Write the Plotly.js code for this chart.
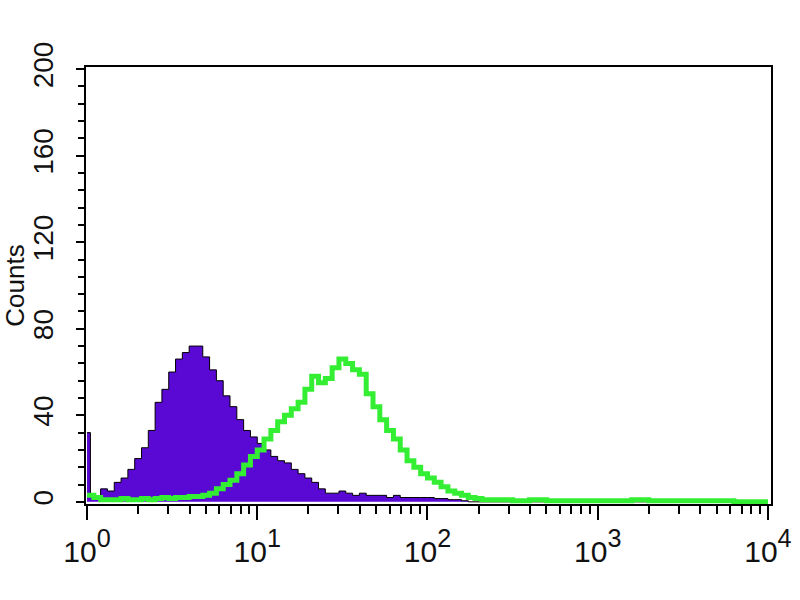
<!DOCTYPE html>
<html>
<head>
<meta charset="utf-8">
<script src="https://cdn.plot.ly/plotly-3.0.1.min.js"></script>
<style>html,body{margin:0;padding:0;background:#fff}#chart{width:800px;height:600px}</style>
</head>
<body>
<div id="chart"></div>
<script>
// Bin positions as log10 exponents
const purpleExp = [0.00,0.02,0.04,0.08,0.12,0.16,0.20,0.24,0.28,0.32,0.36,0.40,0.44,0.48,0.52,0.56,0.60,0.64,0.68,0.72,0.76,0.80,0.84,0.88,0.92,0.96,1.00,1.04,1.08,1.12,1.16,1.20,1.24,1.28,1.32,1.36,1.40,1.44,1.48,1.52,1.56,1.60,1.64,1.68,1.72,1.76,1.80,1.84,1.88,1.92,1.96,2.00,2.04,2.08,2.12,2.16,2.20,2.24,4.00];
const purpleCounts = [32,3,2,6,5,9,11,15,20,25,33,46,52,60,66,69,72,72,67,61,56,49,44,38,33,30,27,24,21,19,18,15,13,11,9,6,4,4,5,4,3,4,3,3,3,2,3,2,2,2,2,2,1.5,1.5,1,1,0.5,0,0];

const greenExp = [0.00,0.04,0.08,0.12,0.16,0.20,0.24,0.28,0.32,0.36,0.40,0.44,0.48,0.52,0.56,0.60,0.64,0.68,0.72,0.76,0.80,0.84,0.88,0.92,0.96,1.00,1.04,1.08,1.12,1.16,1.20,1.24,1.28,1.32,1.36,1.40,1.44,1.48,1.52,1.56,1.60,1.64,1.68,1.72,1.76,1.80,1.84,1.88,1.92,1.96,2.00,2.04,2.08,2.12,2.16,2.20,2.24,2.28,2.32,2.40,2.50,2.60,2.70,2.80,2.90,3.00,3.10,3.20,3.30,3.40,3.50,3.60,3.70,3.80,3.90,4.00];
const greenCounts = [3,2,1,1,1,1.5,1,1,1.5,1,1.5,2,1.5,2,2,2.5,2.5,3,4,6,8,10,13,17,21,24,29,33,37,40,43,46,52,58,55,57,62,66,64,61,59,50,44,38,33,29,24,19,16,13,11,9,7,5,4,3,2,1.5,1,1,0.5,1,0.5,0.5,0.5,0.5,0.5,1,0.5,0.5,0.5,0.5,0.5,0,0,0];

const xTickVals = [1,10,100,1000,10000];
const xTickExp = ['0','1','2','3','4'];
const yTickVals = [0,40,80,120,160,200];
const yTitle = 'Counts';

const toLin = a => a.map(e => Math.pow(10, e));
const xTickText = xTickExp.map(s => '10<span style="font-size:36px"><sup>' + s + '</sup></span>');

const traces = [
  {x: toLin(purpleExp), y: purpleCounts, type: 'scatter', mode: 'lines',
   line: {shape: 'hv', color: '#000000', width: 1}, fill: 'tozeroy', fillcolor: '#5a08d4',
   hoverinfo: 'skip'},
  {x: toLin(greenExp), y: greenCounts, type: 'scatter', mode: 'lines',
   line: {shape: 'hv', color: '#33ee33', width: 5}, hoverinfo: 'skip'}
];

const tickFont = {family: 'Liberation Sans Narrow, Arial Narrow, Liberation Sans, Arial, sans-serif', size: 30, color: '#111'};

const layout = {
  width: 800, height: 600,
  margin: {l: 86, r: 29, t: 67, b: 96},
  paper_bgcolor: '#fff', plot_bgcolor: '#fff',
  showlegend: false,
  xaxis: {
    type: 'log', range: [-0.006, 4.018], autorange: false,
    tickmode: 'array', tickvals: xTickVals, ticktext: xTickText,
    ticks: 'outside', ticklen: 14, tickwidth: 2, tickcolor: '#000',
    minor: {dtick: 'D1', ticks: 'outside', ticklen: 8, tickwidth: 2, tickcolor: '#000', showgrid: false},
    showline: true, linecolor: '#000', linewidth: 2, mirror: true,
    showgrid: false, zeroline: false,
    tickfont: tickFont, ticklabelstandoff: 6
  },
  yaxis: {
    range: [-1, 201], autorange: false,
    tickmode: 'array', tickvals: yTickVals,
    ticks: 'outside', ticklen: 8, tickwidth: 2, tickcolor: '#000',
    minor: {dtick: 8, tick0: 0, ticks: 'outside', ticklen: 6, tickwidth: 2, tickcolor: '#000', showgrid: false},
    showline: true, linecolor: '#000', linewidth: 2, mirror: true,
    showgrid: false, zeroline: false,
    tickangle: -90,
    tickfont: {family: 'Liberation Sans, Arial, sans-serif', size: 28, color: '#111'},
    ticklabelstandoff: 12,
    title: {text: yTitle, font: {family: 'Liberation Sans, Arial, sans-serif', size: 26, color: '#111'}, standoff: 6}
  }
};

Plotly.newPlot('chart', traces, layout, {staticPlot: true, displayModeBar: false});
</script>
</body>
</html>
